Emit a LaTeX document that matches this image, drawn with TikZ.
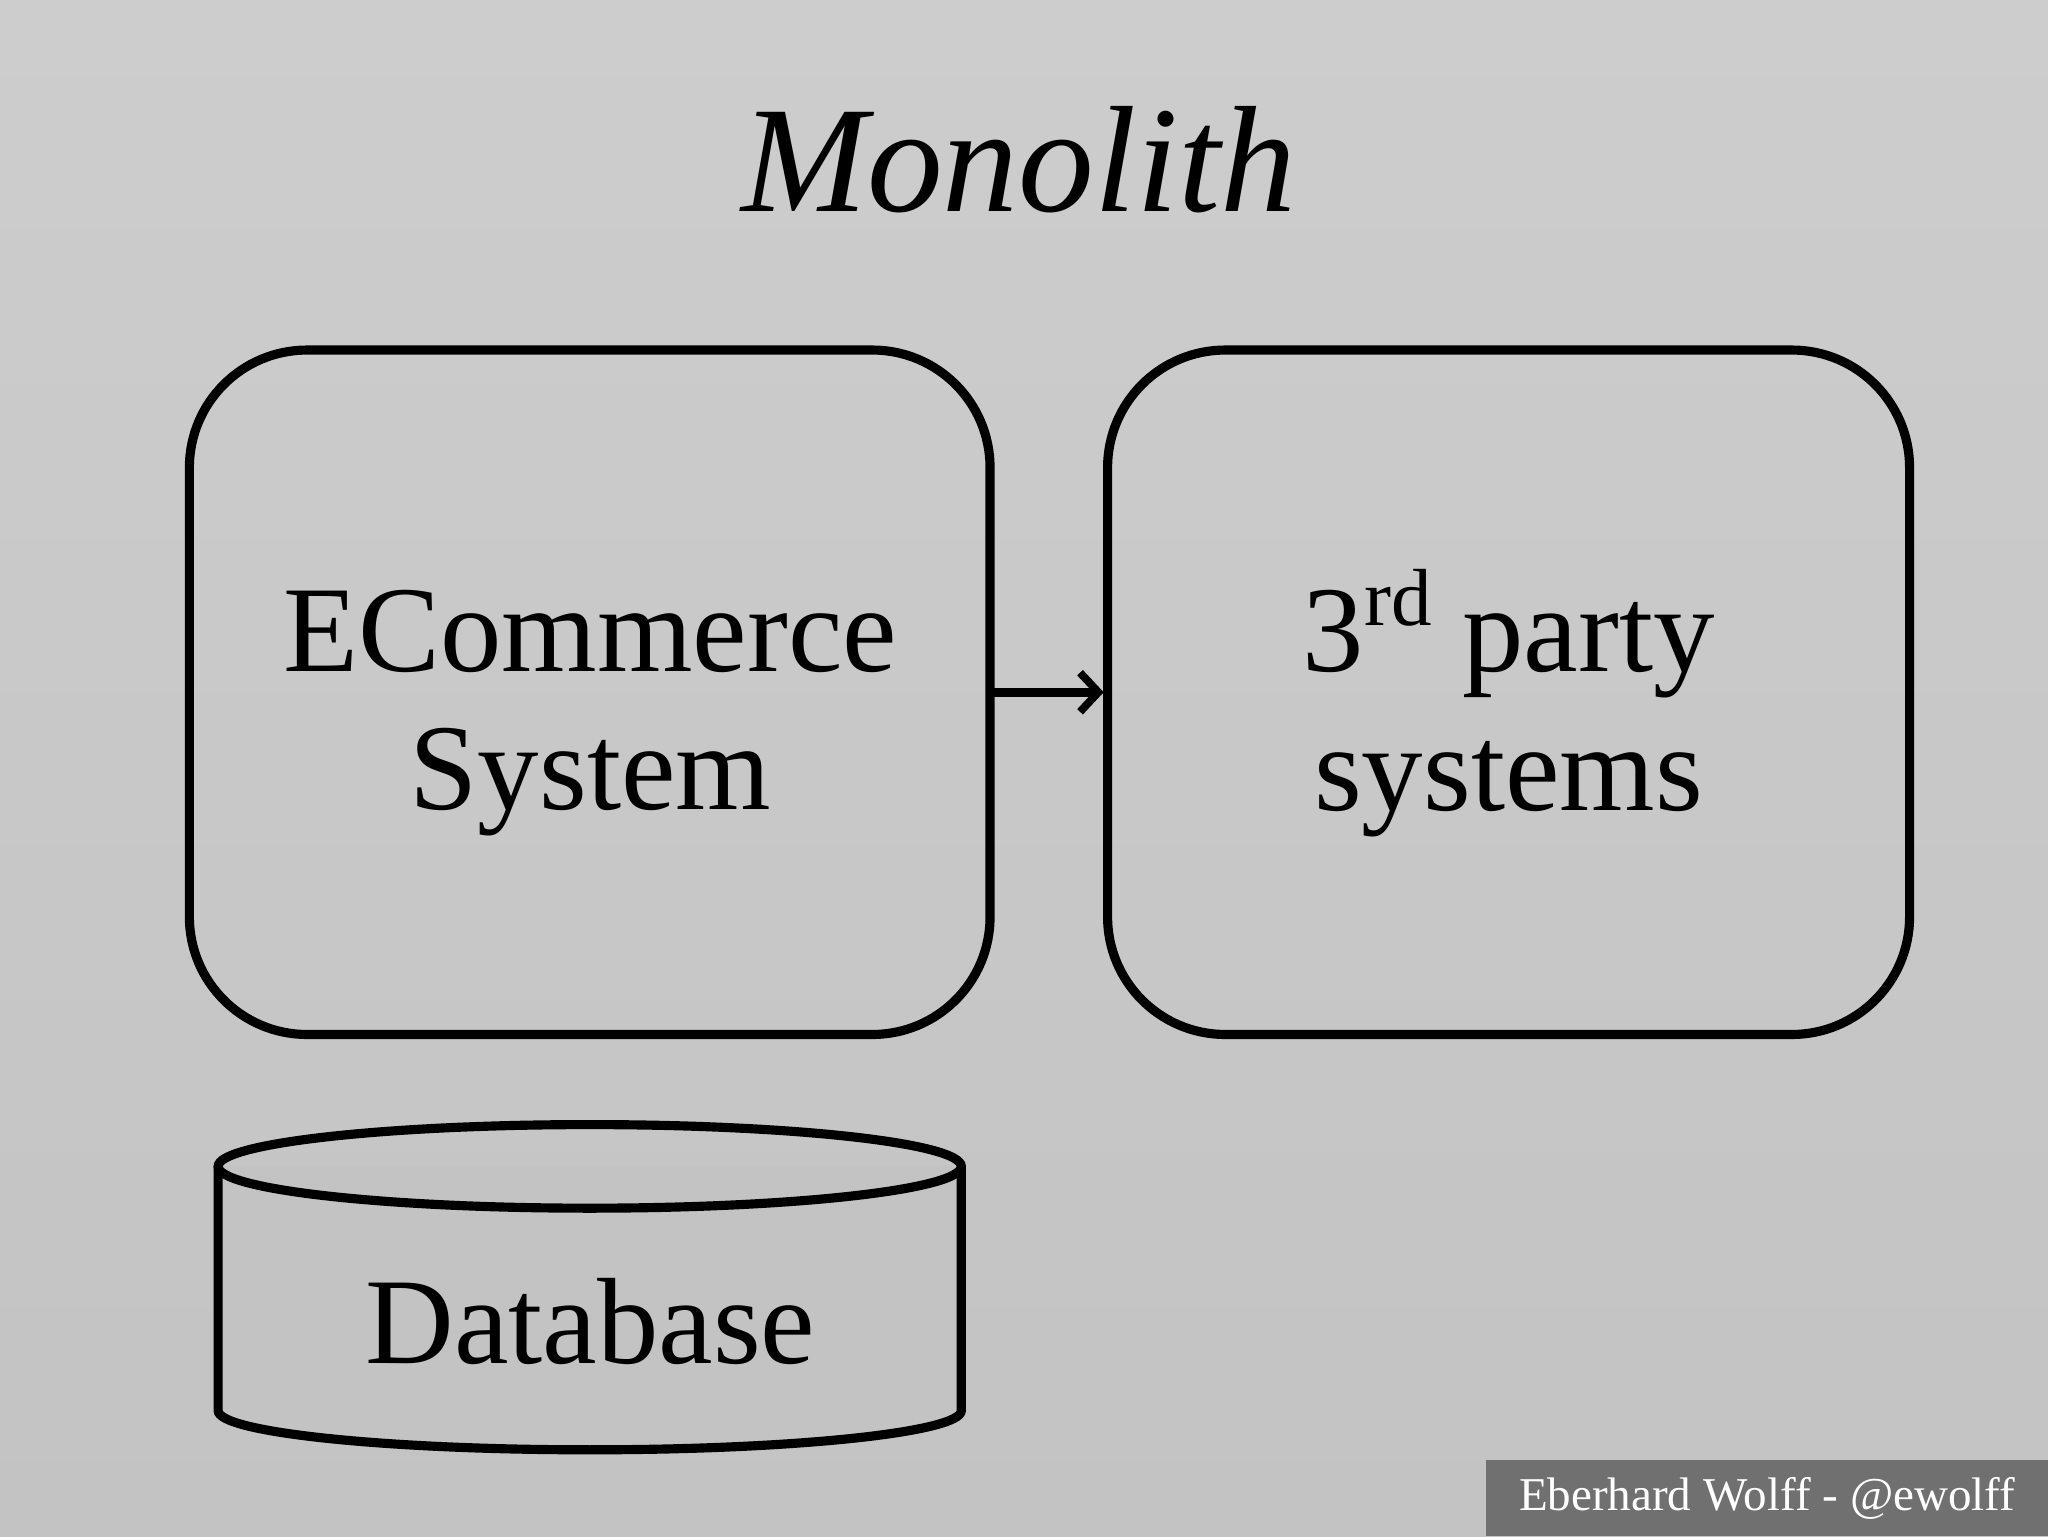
\documentclass[tikz,border=0pt]{standalone}
\usepackage{fontspec}
\setmainfont{Liberation Serif}
\usetikzlibrary{arrows.meta}
\definecolor{bgtop}{HTML}{CDCDCD}
\definecolor{bgbot}{HTML}{C3C3C3}
\definecolor{foot}{HTML}{707070}
\begin{document}
\begin{tikzpicture}[x=1pt,y=-1pt,
  box/.style={draw=black,line width=7pt,rounded corners=90pt},
  big/.style={font=\fontsize{94}{106}\selectfont,align=center}]
\shade[top color=bgtop,bottom color=bgbot] (0,0) rectangle (1568,1176);
\useasboundingbox (0,0) rectangle (1568,1176);
\node[font=\fontsize{116}{120}\selectfont\itshape] (title) at (780,122) {Monolith};
\draw[box] (145,268) rectangle (758,792);
\draw[box] (848,268) rectangle (1462,792);
\node[big] (ecom) at (452,546) {ECommerce\\System};
\node[big] (third) at (1155,538) {3\raisebox{0.38em}{\fontsize{62}{62}\selectfont rd} party\\systems};
\coordinate (a1) at (761,530);
\coordinate (a2) at (845,530);
\draw[line width=7pt,-{Straight Barb[length=14pt,width=30pt,line width=6pt]}] (a1) -- (a2);
% cylinder
\draw[line width=7pt,fill=bgbot] (167,893) -- (167,1080) arc[start angle=180,end angle=0,x radius=284.5,y radius=30] -- (736,893);
\draw[line width=7pt] (451.5,893) ellipse[x radius=284.5,y radius=32];
\node[big] (db) at (452,1012) {Database};
\fill[foot] (1138,1118) rectangle (1568,1176);
\node[text=white,font=\fontsize{36}{40}\selectfont] (foot) at (1353,1147) {Eberhard Wolff - @ewolff};
\end{tikzpicture}
\end{document}
